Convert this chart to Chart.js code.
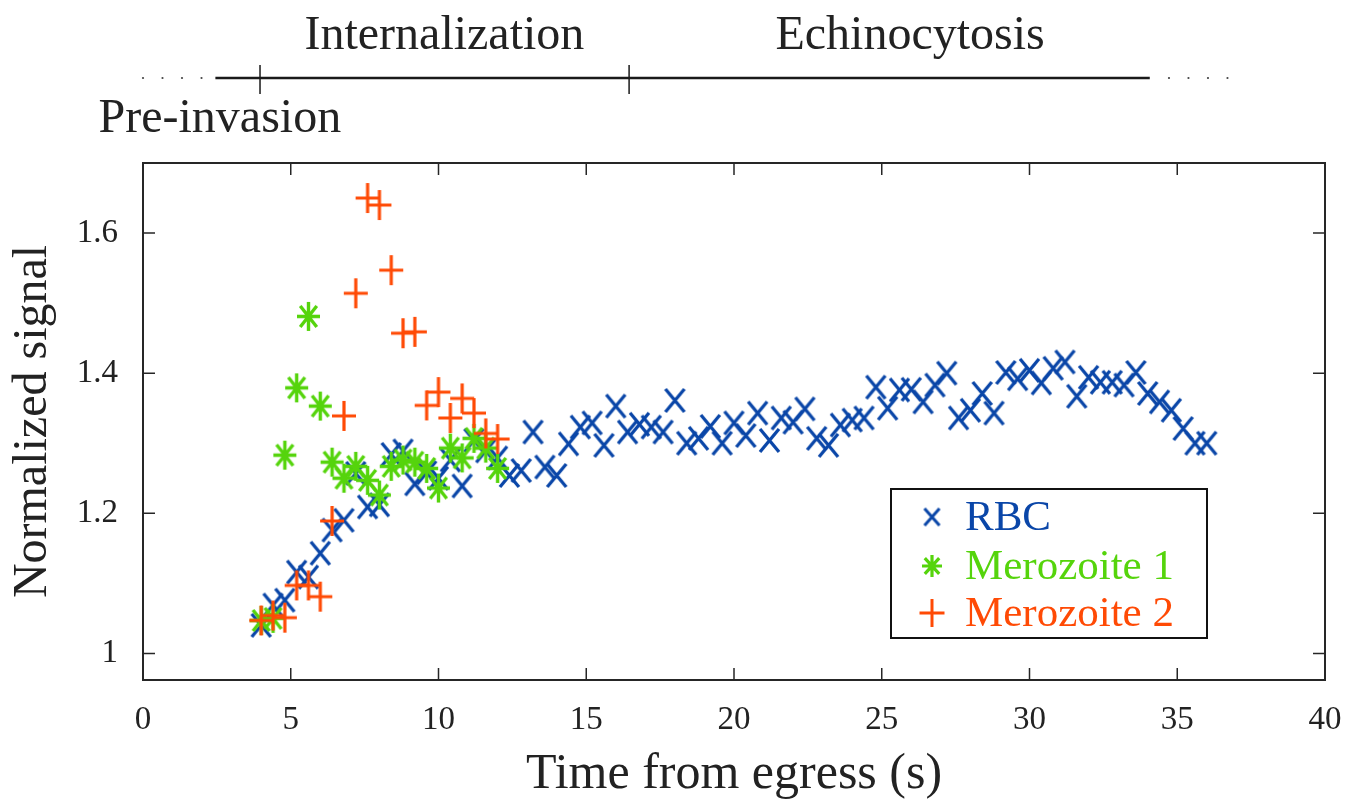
<!DOCTYPE html>
<html><head><meta charset="utf-8">
<script src="https://cdn.jsdelivr.net/npm/chart.js@4/dist/chart.umd.min.js"></script>
<style>html,body{margin:0;padding:0;background:#fff;}#wrap{width:1346px;height:802px;}</style>
</head><body><div id="wrap"><canvas id="c" width="1346" height="802"></canvas></div>
<script>
// ---------- data ----------
const rbcTime = [4.0,4.4,4.8,5.2,5.6,6.0,6.4,6.8,7.2,7.6,8.0,8.4,8.8,9.2,9.6,10.0,10.4,10.8,11.2,11.6,12.0,
  12.4,12.8,13.2,13.6,14.0,14.4,14.8,15.2,15.6,16.0,16.4,16.8,17.2,17.6,18.0,18.4,18.8,19.2,19.6,20.0,
  20.4,20.8,21.2,21.6,22.0,22.4,22.8,23.2,23.6,24.0,24.4,24.8,25.2,25.6,26.0,26.4,26.8,27.2,27.6,28.0,
  28.4,28.8,29.2,29.6,30.0,30.4,30.8,31.2,31.6,32.0,32.4,32.8,33.2,33.6,34.0,34.4,34.8,35.2,35.6,36.0];
const rbcSignal = [1.040,1.069,1.076,1.116,1.109,1.143,1.176,1.190,1.257,1.209,1.212,1.284,1.289,1.242,1.258,1.250,1.276,1.239,1.304,1.289,1.279,
  1.254,1.261,1.316,1.266,1.254,1.299,1.323,1.329,1.297,1.353,1.316,1.327,1.323,1.316,1.361,1.300,1.307,1.324,1.300,1.329,
  1.311,1.343,1.304,1.336,1.330,1.349,1.307,1.297,1.326,1.333,1.336,1.380,1.350,1.376,1.377,1.359,1.383,1.400,1.336,1.347,
  1.371,1.343,1.401,1.392,1.404,1.386,1.407,1.416,1.367,1.394,1.387,1.387,1.383,1.401,1.371,1.359,1.347,1.321,1.300,1.300];
const mero1Time = [4.0,4.4,4.8,5.2,5.6,6.0,6.4,6.8,7.2,7.6,8.0,8.4,8.8,9.2,9.6,10.0,10.4,10.8,11.2,11.6,12.0];
const mero1Signal = [1.047,1.050,1.283,1.379,1.481,1.353,1.273,1.250,1.267,1.247,1.226,1.267,1.276,1.273,1.264,1.236,1.293,1.279,1.307,1.293,1.264];
const mero2Time = [4.0,4.4,4.8,5.2,5.6,6.0,6.4,6.8,7.2,7.6,8.0,8.4,8.8,9.2,9.6,10.0,10.4,10.8,11.2,11.6,12.0];
const mero2Signal = [1.047,1.054,1.051,1.097,1.097,1.081,1.189,1.339,1.514,1.650,1.640,1.547,1.457,1.459,1.354,1.373,1.336,1.364,1.343,1.314,1.306];
const seriesNames = ['RBC','Merozoite 1','Merozoite 2'];
const xTickValues = [0,5,10,15,20,25,30,35,40];
const yTickValues = [1,1.2,1.4,1.6];
const phaseTicks = [3.96,16.45];
const phaseLabels = ['Internalization','Echinocytosis','Pre-invasion'];
const phaseLabelCenters = [10.2,25.96,2.6];
const timelineSolid = [2.45,34.07];
const timelineDots = [0,0.66,1.32,1.98,34.72,35.38,36.04,36.7];

// ---------- styles ----------
const COLORS = ['#0a46a8','#55d40c','#ff4a05'];
const SERIF = '"Liberation Serif","DejaVu Serif",serif';
const INK = '#222222';

function makeMarker(kind, color, w, h, lw){
  const c = document.createElement('canvas');
  c.width = w + 8; c.height = h + 8;
  const g = c.getContext('2d');
  g.strokeStyle = color; g.lineWidth = lw; g.lineCap = 'butt';
  const cx = c.width/2, cy = c.height/2, hw = w/2, hh = h/2;
  g.beginPath();
  if (kind === 'x' || kind === '*') {
    const sx = kind === '*' ? hw*0.72 : hw, sy = kind === '*' ? hh*0.72 : hh;
    g.moveTo(cx-sx,cy-sy); g.lineTo(cx+sx,cy+sy);
    g.moveTo(cx-sx,cy+sy); g.lineTo(cx+sx,cy-sy);
  }
  if (kind === '+' || kind === '*') {
    g.moveTo(cx-hw,cy); g.lineTo(cx+hw,cy);
    g.moveTo(cx,cy-hh); g.lineTo(cx,cy+hh);
  }
  g.stroke();
  return c;
}
const markers = [
  makeMarker('x', COLORS[0], 19, 23, 3.3),
  makeMarker('*', COLORS[1], 23, 29, 3.4),
  makeMarker('+', COLORS[2], 24, 30, 3.2)
];
const legendMarkers = [
  makeMarker('x', COLORS[0], 15, 17, 3),
  makeMarker('*', COLORS[1], 20, 22, 3.2),
  makeMarker('+', COLORS[2], 25, 28, 3)
];

function pts(xs, ys){ return xs.map((x,i)=>({x:x, y:ys[i]})); }

const decor = {
  id: 'decor',
  afterDatasetsDraw(chart){
    const {ctx, chartArea: a, scales: {x, y}} = chart;
    ctx.save();
    // frame
    ctx.strokeStyle = '#262626'; ctx.lineWidth = 2;
    ctx.strokeRect(a.left, a.top, a.right - a.left, a.bottom - a.top);
    // inward ticks
    ctx.lineWidth = 1.5; ctx.beginPath();
    const TL = 12;
    xTickValues.forEach(v => { const px = x.getPixelForValue(v);
      if (px <= a.left + 1 || px >= a.right - 1) return;
      ctx.moveTo(px, a.bottom); ctx.lineTo(px, a.bottom - TL);
      ctx.moveTo(px, a.top); ctx.lineTo(px, a.top + TL); });
    yTickValues.forEach(v => { const py = y.getPixelForValue(v);
      ctx.moveTo(a.left, py); ctx.lineTo(a.left + TL, py);
      ctx.moveTo(a.right, py); ctx.lineTo(a.right - TL, py); });
    ctx.stroke();

    // timeline
    const ty = 78;
    ctx.strokeStyle = '#1a1a1a'; ctx.lineWidth = 2.5; ctx.beginPath();
    ctx.moveTo(x.getPixelForValue(timelineSolid[0]), ty);
    ctx.lineTo(x.getPixelForValue(timelineSolid[1]), ty);
    ctx.stroke();
    ctx.lineWidth = 1.5; ctx.beginPath();
    phaseTicks.forEach(t => { const px = x.getPixelForValue(t);
      ctx.moveTo(px, 65); ctx.lineTo(px, 94); });
    ctx.stroke();
    ctx.fillStyle = '#444';
    timelineDots.forEach(t => { ctx.beginPath();
      ctx.arc(x.getPixelForValue(t), ty, 1.1, 0, Math.PI*2); ctx.fill(); });
    // phase labels
    ctx.fillStyle = INK; ctx.font = '48px ' + SERIF;
    ctx.textAlign = 'center'; ctx.textBaseline = 'middle';
    ctx.fillText(phaseLabels[0], x.getPixelForValue(phaseLabelCenters[0]), 36);
    ctx.fillText(phaseLabels[1], x.getPixelForValue(phaseLabelCenters[1]), 36);
    ctx.fillText(phaseLabels[2], x.getPixelForValue(phaseLabelCenters[2]), 119);

    // legend
    const lw = 316, lh = 149;
    const lx = a.right - 118 - lw, ly = a.bottom - 42 - lh;
    ctx.fillStyle = '#fff'; ctx.fillRect(lx, ly, lw, lh);
    ctx.strokeStyle = '#111'; ctx.lineWidth = 2; ctx.strokeRect(lx, ly, lw, lh);
    ctx.font = '43px ' + SERIF; ctx.textAlign = 'left'; ctx.textBaseline = 'middle';
    const rows = [28, 77, 124];
    seriesNames.forEach((name, i) => {
      const m = legendMarkers[i];
      ctx.drawImage(m, lx + 41 - m.width/2, ly + rows[i] - m.height/2);
      ctx.fillStyle = COLORS[i];
      ctx.fillText(name, lx + 74, ly + rows[i] + 2);
    });
    ctx.restore();
  }
};

new Chart(document.getElementById('c'), {
  type: 'scatter',
  data: {
    datasets: [
      {label: seriesNames[0], data: pts(rbcTime, rbcSignal), pointStyle: markers[0], order: 2},
      {label: seriesNames[1], data: pts(mero1Time, mero1Signal), pointStyle: markers[1], order: 1},
      {label: seriesNames[2], data: pts(mero2Time, mero2Signal), pointStyle: markers[2], order: 0}
    ]
  },
  options: {
    responsive: false, animation: false, devicePixelRatio: 1,
    layout: {padding: {left: 0, top: 163, right: 21, bottom: 0}},
    plugins: {legend: {display: false}, tooltip: {enabled: false}},
    scales: {
      x: {
        type: 'linear', min: 0, max: 40,
        afterBuildTicks: s => { s.ticks = xTickValues.map(v => ({value: v})); },
        afterFit: s => { s.height = 122; s.paddingLeft = 0; s.paddingRight = 0; },
        grid: {display: false, drawTicks: false}, border: {display: false},
        ticks: {color: INK, font: {family: SERIF, size: 33, lineHeight: 1.2}, padding: 21, maxRotation: 0,
                callback: v => String(v)},
        title: {display: true, text: 'Time from egress (s)', color: INK,
                font: {family: SERIF, size: 50, lineHeight: 1}, padding: {top: 0, bottom: 2}}
      },
      y: {
        type: 'linear', min: 0.962, max: 1.7,
        afterBuildTicks: s => { s.ticks = yTickValues.map(v => ({value: v})); },
        afterFit: s => { s.width = 143; s.paddingTop = 0; s.paddingBottom = 0; },
        grid: {display: false, drawTicks: false}, border: {display: false},
        ticks: {color: INK, font: {family: SERIF, size: 33, lineHeight: 1.2}, padding: 25,
                callback: v => String(Math.round(v*10)/10)},
        title: {display: true, text: 'Normalized signal', color: INK,
                font: {family: SERIF, size: 48, lineHeight: 1}, padding: {top: 9, bottom: 0}}
      }
    }
  },
  plugins: [decor]
});
</script></body></html>
